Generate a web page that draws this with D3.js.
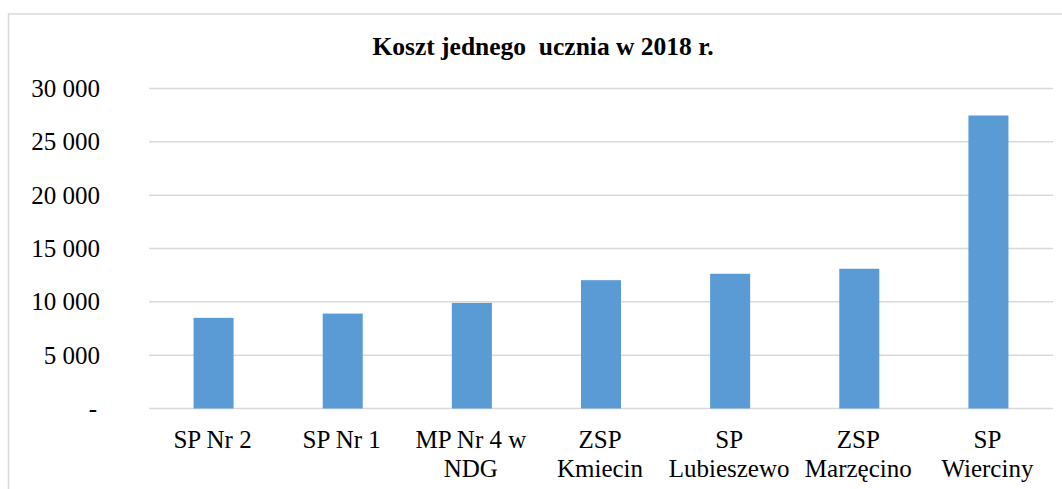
<!DOCTYPE html>
<html>
<head>
<meta charset="utf-8">
<script src="https://cdn.jsdelivr.net/npm/d3@7/dist/d3.min.js"></script>
<style>
  html,body{margin:0;padding:0;background:#fff;overflow:hidden;}
  svg{display:block;font-family:"Liberation Serif","Times New Roman",serif;}
</style>
</head>
<body>
<div id="chart"></div>
<script>
// Koszt jednego ucznia w 2018 r. – słupki
const title = "Koszt jednego  ucznia w 2018 r.";
const categories = ["SP Nr 2", "SP Nr 1", "MP Nr 4 w\nNDG", "ZSP\nKmiecin", "SP\nLubieszewo", "ZSP\nMarzęcino", "SP\nWierciny"];
const values = [8500, 8900, 9900, 12030, 12630, 13100, 27470];
const yTicks = [0, 5000, 10000, 15000, 20000, 25000, 30000];

const W = 1062, H = 489;
const m = {top: 88.5, right: 9, bottom: 80.5, left: 149};

const svg = d3.select("#chart").append("svg").attr("width", W).attr("height", H);

// ramka obszaru wykresu (ucięta z prawej i z dołu)
svg.append("rect").attr("x", 8.5).attr("y", 14).attr("width", 1200).attr("height", 600)
  .attr("fill", "none").attr("stroke", "#d9d9d9").attr("stroke-width", 1.5);

const x = d3.scaleBand().domain(categories).range([m.left, W - m.right]).paddingInner(0.69).paddingOuter(0.345);
const y = d3.scaleLinear().domain([0, 30000]).range([H - m.bottom, m.top]);

const fmt = v => v === 0 ? "-" : d3.format(",")(v).replace(/,/g, " ");

// siatka
svg.append("g").selectAll("line").data(yTicks).join("line")
  .attr("x1", m.left).attr("x2", W - m.right)
  .attr("y1", d => y(d)).attr("y2", d => y(d))
  .attr("stroke", "#d9d9d9").attr("stroke-width", 1.5);

// oś Y
const yAxis = svg.append("g").attr("transform", `translate(100,0)`)
  .call(d3.axisLeft(y).tickValues(yTicks).tickFormat(fmt).tickSize(0).tickPadding(0))
  .attr("font-family", null).attr("font-size", null);
yAxis.select(".domain").remove();
yAxis.selectAll("text").style("font-family", "'Liberation Serif', serif").attr("font-size", 25).attr("fill", "#000")
  .attr("dx", d => d === 0 ? -3 : 0);

// słupki
svg.append("g").selectAll("rect").data(values).join("rect")
  .attr("x", (d, i) => x(categories[i])).attr("width", x.bandwidth())
  .attr("y", d => y(d)).attr("height", d => y(0) - y(d))
  .attr("fill", "#5b9bd5");

// etykiety kategorii
const xl = svg.append("g").selectAll("text").data(categories).join("text")
  .attr("x", d => x(d) + x.bandwidth() / 2 - 1).attr("y", 448)
  .attr("text-anchor", "middle").attr("font-size", 25).attr("fill", "#000");
xl.selectAll("tspan").data(d => d.split("\n")).join("tspan")
  .attr("x", function(){ return this.parentNode.getAttribute("x"); })
  .attr("dy", (d, i) => i ? 29 : 0).text(d => d);

// tytuł
svg.append("text").attr("x", 543).attr("y", 55).attr("text-anchor", "middle")
  .attr("font-size", 25.5).attr("font-weight", "bold").style("white-space", "pre").text(title);
</script>
</body>
</html>
